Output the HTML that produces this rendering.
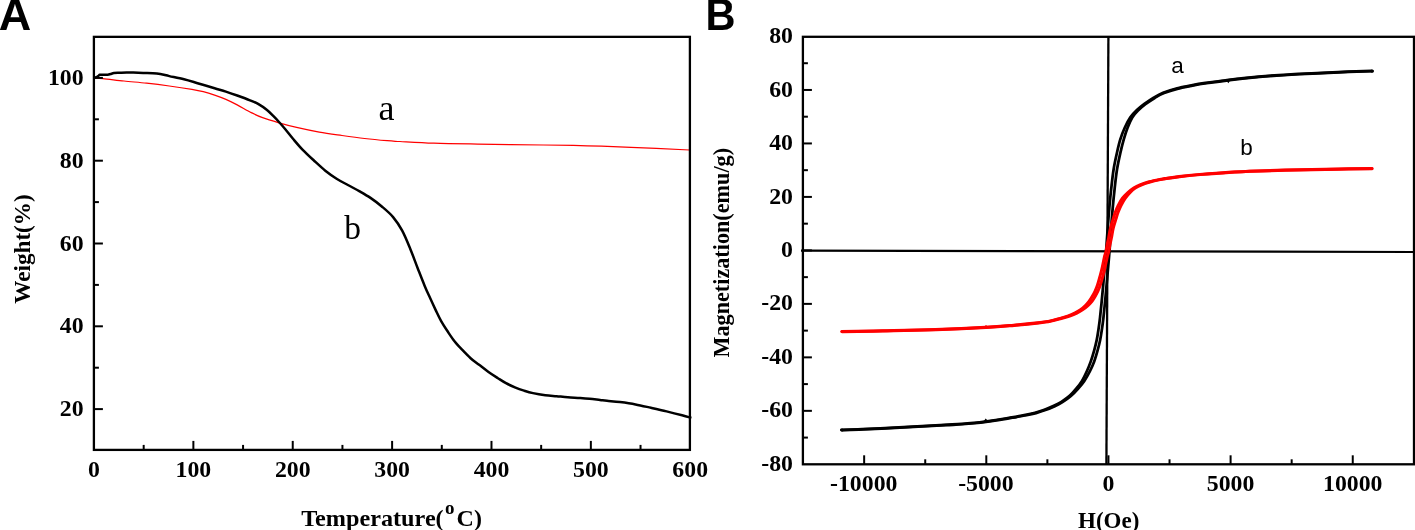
<!DOCTYPE html>
<html><head><meta charset="utf-8"><title>Figure</title>
<style>
html,body{margin:0;padding:0;background:#fff;}
body{width:1415px;height:530px;overflow:hidden;font-family:"Liberation Serif",serif;}
svg{display:block;will-change:transform;transform:translateZ(0);}
</style></head><body>
<svg width="1415" height="530" viewBox="0 0 1415 530">
<path d="M94.00,78.20 C95.50,78.27 98.00,78.13 103.00,78.60 C108.00,79.07 116.73,80.23 124.00,81.00 C131.27,81.77 139.05,82.37 146.60,83.20 C154.15,84.03 161.75,84.97 169.30,86.00 C176.85,87.03 186.23,88.45 191.90,89.40 C197.57,90.35 199.52,90.75 203.30,91.70 C207.08,92.65 210.83,93.82 214.60,95.10 C218.37,96.38 222.13,97.77 225.90,99.40 C229.67,101.03 232.97,102.70 237.20,104.90 C241.43,107.10 247.07,110.47 251.30,112.60 C255.53,114.73 257.98,116.00 262.60,117.70 C267.22,119.40 273.33,121.18 279.00,122.80 C284.67,124.42 289.88,125.85 296.60,127.40 C303.32,128.95 311.73,130.75 319.30,132.10 C326.87,133.45 334.45,134.43 342.00,135.50 C349.55,136.57 357.07,137.63 364.60,138.50 C372.13,139.37 381.30,140.20 387.20,140.70 C393.10,141.20 392.23,141.08 400.00,141.50 C407.77,141.92 420.87,142.77 433.80,143.20 C446.73,143.63 459.35,143.80 477.60,144.10 C495.85,144.40 525.03,144.72 543.30,145.00 C561.57,145.28 572.58,145.40 587.20,145.80 C601.82,146.20 613.95,146.70 631.00,147.40 C648.05,148.10 679.75,149.57 689.50,150.00" fill="none" stroke="#ff0000" stroke-width="1.25"/>
<rect x="93.90" y="36.85" width="596.00" height="413.05" fill="none" stroke="#000" stroke-width="2.3"/>
<line x1="143.69" y1="449.90" x2="143.69" y2="444.90" stroke="#000" stroke-width="2"/>
<line x1="193.37" y1="449.90" x2="193.37" y2="440.90" stroke="#000" stroke-width="2"/>
<line x1="243.06" y1="449.90" x2="243.06" y2="444.90" stroke="#000" stroke-width="2"/>
<line x1="292.74" y1="449.90" x2="292.74" y2="440.90" stroke="#000" stroke-width="2"/>
<line x1="342.43" y1="449.90" x2="342.43" y2="444.90" stroke="#000" stroke-width="2"/>
<line x1="392.11" y1="449.90" x2="392.11" y2="440.90" stroke="#000" stroke-width="2"/>
<line x1="441.80" y1="449.90" x2="441.80" y2="444.90" stroke="#000" stroke-width="2"/>
<line x1="491.48" y1="449.90" x2="491.48" y2="440.90" stroke="#000" stroke-width="2"/>
<line x1="541.16" y1="449.90" x2="541.16" y2="444.90" stroke="#000" stroke-width="2"/>
<line x1="590.85" y1="449.90" x2="590.85" y2="440.90" stroke="#000" stroke-width="2"/>
<line x1="640.53" y1="449.90" x2="640.53" y2="444.90" stroke="#000" stroke-width="2"/>
<line x1="93.90" y1="409.10" x2="102.90" y2="409.10" stroke="#000" stroke-width="2"/>
<line x1="93.90" y1="367.70" x2="98.90" y2="367.70" stroke="#000" stroke-width="2"/>
<line x1="93.90" y1="326.30" x2="102.90" y2="326.30" stroke="#000" stroke-width="2"/>
<line x1="93.90" y1="284.90" x2="98.90" y2="284.90" stroke="#000" stroke-width="2"/>
<line x1="93.90" y1="243.50" x2="102.90" y2="243.50" stroke="#000" stroke-width="2"/>
<line x1="93.90" y1="202.10" x2="98.90" y2="202.10" stroke="#000" stroke-width="2"/>
<line x1="93.90" y1="160.70" x2="102.90" y2="160.70" stroke="#000" stroke-width="2"/>
<line x1="93.90" y1="119.30" x2="98.90" y2="119.30" stroke="#000" stroke-width="2"/>
<line x1="93.90" y1="77.90" x2="102.90" y2="77.90" stroke="#000" stroke-width="2"/>
<rect x="802.90" y="36.80" width="611.10" height="427.50" fill="none" stroke="#000" stroke-width="2.3"/>
<line x1="864.15" y1="464.30" x2="864.15" y2="455.30" stroke="#000" stroke-width="2"/>
<line x1="925.23" y1="464.30" x2="925.23" y2="459.30" stroke="#000" stroke-width="2"/>
<line x1="986.30" y1="464.30" x2="986.30" y2="455.30" stroke="#000" stroke-width="2"/>
<line x1="1047.38" y1="464.30" x2="1047.38" y2="459.30" stroke="#000" stroke-width="2"/>
<line x1="1108.45" y1="464.30" x2="1108.45" y2="455.30" stroke="#000" stroke-width="2"/>
<line x1="1169.53" y1="464.30" x2="1169.53" y2="459.30" stroke="#000" stroke-width="2"/>
<line x1="1230.60" y1="464.30" x2="1230.60" y2="455.30" stroke="#000" stroke-width="2"/>
<line x1="1291.67" y1="464.30" x2="1291.67" y2="459.30" stroke="#000" stroke-width="2"/>
<line x1="1352.75" y1="464.30" x2="1352.75" y2="455.30" stroke="#000" stroke-width="2"/>
<line x1="802.90" y1="437.58" x2="807.90" y2="437.58" stroke="#000" stroke-width="2"/>
<line x1="802.90" y1="410.84" x2="811.90" y2="410.84" stroke="#000" stroke-width="2"/>
<line x1="802.90" y1="384.10" x2="807.90" y2="384.10" stroke="#000" stroke-width="2"/>
<line x1="802.90" y1="357.36" x2="811.90" y2="357.36" stroke="#000" stroke-width="2"/>
<line x1="802.90" y1="330.62" x2="807.90" y2="330.62" stroke="#000" stroke-width="2"/>
<line x1="802.90" y1="303.88" x2="811.90" y2="303.88" stroke="#000" stroke-width="2"/>
<line x1="802.90" y1="277.14" x2="807.90" y2="277.14" stroke="#000" stroke-width="2"/>
<line x1="802.90" y1="250.40" x2="811.90" y2="250.40" stroke="#000" stroke-width="2"/>
<line x1="802.90" y1="223.66" x2="807.90" y2="223.66" stroke="#000" stroke-width="2"/>
<line x1="802.90" y1="196.92" x2="811.90" y2="196.92" stroke="#000" stroke-width="2"/>
<line x1="802.90" y1="170.18" x2="807.90" y2="170.18" stroke="#000" stroke-width="2"/>
<line x1="802.90" y1="143.44" x2="811.90" y2="143.44" stroke="#000" stroke-width="2"/>
<line x1="802.90" y1="116.70" x2="807.90" y2="116.70" stroke="#000" stroke-width="2"/>
<line x1="802.90" y1="89.96" x2="811.90" y2="89.96" stroke="#000" stroke-width="2"/>
<line x1="802.90" y1="63.22" x2="807.90" y2="63.22" stroke="#000" stroke-width="2"/>
<line x1="801" y1="250.6" x2="1413" y2="252.0" stroke="#000" stroke-width="2.2"/>
<line x1="1108.4" y1="37" x2="1106.4" y2="464" stroke="#000" stroke-width="2.3"/>
<path d="M94.50,77.80 C94.92,77.63 96.32,77.15 97.00,76.80 C97.68,76.45 98.12,76.05 98.60,75.70 C99.08,75.35 99.17,74.87 99.90,74.70 C100.63,74.53 101.68,74.70 103.00,74.70 C104.32,74.70 106.53,74.82 107.80,74.70 C109.07,74.58 109.57,74.27 110.60,74.00 C111.63,73.73 112.48,73.30 114.00,73.10 C115.52,72.90 117.62,72.90 119.70,72.80 C121.78,72.70 124.23,72.53 126.50,72.50 C128.77,72.47 130.52,72.53 133.30,72.60 C136.08,72.67 139.28,72.77 143.20,72.90 C147.12,73.03 152.45,72.87 156.80,73.40 C161.15,73.93 164.77,75.12 169.30,76.10 C173.83,77.08 179.28,78.12 184.00,79.30 C188.72,80.48 192.50,81.70 197.60,83.20 C202.70,84.70 209.88,86.90 214.60,88.30 C219.32,89.70 222.13,90.40 225.90,91.60 C229.67,92.80 233.18,94.05 237.20,95.50 C241.22,96.95 246.45,98.85 250.00,100.30 C253.55,101.75 255.67,102.58 258.50,104.20 C261.33,105.82 264.50,108.00 267.00,110.00 C269.50,112.00 271.50,114.20 273.50,116.20 C275.50,118.20 277.03,119.83 279.00,122.00 C280.97,124.17 282.93,126.37 285.30,129.20 C287.67,132.03 290.33,135.60 293.20,139.00 C296.07,142.40 299.05,146.02 302.50,149.60 C305.95,153.18 310.10,156.98 313.90,160.50 C317.70,164.02 321.52,167.67 325.30,170.70 C329.08,173.73 332.83,176.32 336.60,178.70 C340.37,181.08 344.13,182.93 347.90,185.00 C351.67,187.07 355.43,188.95 359.20,191.10 C362.97,193.25 366.73,195.33 370.50,197.90 C374.27,200.47 378.03,203.30 381.80,206.50 C385.57,209.70 389.70,213.07 393.10,217.10 C396.50,221.13 399.30,225.30 402.20,230.70 C405.10,236.10 407.92,243.25 410.50,249.50 C413.08,255.75 415.33,262.13 417.70,268.20 C420.07,274.27 422.65,280.97 424.70,285.90 C426.75,290.83 428.17,293.77 430.00,297.80 C431.83,301.83 433.82,306.17 435.70,310.10 C437.58,314.03 439.27,317.78 441.30,321.40 C443.33,325.02 445.70,328.50 447.90,331.80 C450.10,335.10 452.13,338.22 454.50,341.20 C456.87,344.18 459.42,346.87 462.10,349.70 C464.78,352.53 467.77,355.68 470.60,358.20 C473.43,360.72 476.12,362.50 479.10,364.80 C482.08,367.10 485.37,369.77 488.50,372.00 C491.63,374.23 494.98,376.33 497.90,378.20 C500.82,380.07 503.07,381.63 506.00,383.20 C508.93,384.77 512.50,386.37 515.50,387.60 C518.50,388.83 521.08,389.68 524.00,390.60 C526.92,391.52 529.45,392.33 533.00,393.10 C536.55,393.87 541.37,394.68 545.30,395.20 C549.23,395.72 552.83,395.87 556.60,396.20 C560.37,396.53 563.97,396.90 567.90,397.20 C571.83,397.50 576.58,397.73 580.20,398.00 C583.82,398.27 586.30,398.47 589.60,398.80 C592.90,399.13 597.10,399.67 600.00,400.00 C602.90,400.33 603.68,400.45 607.00,400.80 C610.32,401.15 615.15,401.50 619.90,402.10 C624.65,402.70 630.32,403.45 635.50,404.40 C640.68,405.35 645.82,406.63 651.00,407.80 C656.18,408.97 661.42,410.15 666.60,411.40 C671.78,412.65 677.97,414.22 682.10,415.30 C686.23,416.38 689.85,417.47 691.40,417.90" fill="none" stroke="#000" stroke-width="2.5" stroke-linejoin="round"/>
<path d="M841.39,429.85 C844.84,429.73 854.06,429.48 862.09,429.15 C870.12,428.82 880.41,428.32 889.59,427.85 C898.77,427.38 908.01,426.85 917.19,426.35 C926.37,425.85 937.31,425.25 944.69,424.85 C952.07,424.45 956.66,424.27 961.49,423.95 C966.32,423.63 969.77,423.33 973.69,422.95 C977.61,422.57 981.07,422.18 984.99,421.65 C988.91,421.12 992.79,420.45 997.19,419.75 C1001.59,419.05 1006.67,418.25 1011.39,417.45 C1016.11,416.65 1021.56,415.73 1025.49,414.95 C1029.42,414.17 1031.84,413.62 1034.99,412.75 C1038.14,411.88 1041.26,410.90 1044.39,409.75 C1047.52,408.60 1050.96,407.17 1053.79,405.85 C1056.62,404.53 1058.71,403.55 1061.39,401.85 C1064.07,400.15 1067.38,397.88 1069.88,395.65 C1072.38,393.42 1074.38,390.93 1076.40,388.48 C1078.42,386.02 1080.27,383.73 1081.99,380.90 C1083.72,378.08 1085.25,374.79 1086.72,371.54 C1088.19,368.28 1089.55,364.89 1090.80,361.35 C1092.05,357.82 1093.22,353.89 1094.20,350.35 C1095.18,346.82 1096.00,343.55 1096.70,340.15 C1097.40,336.75 1097.85,333.65 1098.40,329.95 C1098.95,326.25 1099.35,323.79 1100.00,317.95 C1100.65,312.12 1101.58,302.62 1102.30,294.95 C1103.02,287.29 1103.67,279.29 1104.30,271.95 C1104.93,264.62 1105.55,257.95 1106.10,250.96 C1106.65,243.96 1107.07,237.12 1107.60,229.96 C1108.13,222.79 1108.68,214.96 1109.30,207.96 C1109.92,200.96 1110.58,194.37 1111.30,187.96 C1112.02,181.54 1112.67,175.27 1113.60,169.46 C1114.53,163.64 1115.78,158.06 1116.90,153.06 C1118.02,148.06 1118.98,143.71 1120.30,139.46 C1121.62,135.20 1123.16,131.22 1124.83,127.53 C1126.51,123.83 1128.37,120.15 1130.34,117.29 C1132.30,114.43 1134.27,112.59 1136.61,110.37 C1138.95,108.14 1141.54,106.07 1144.39,103.95 C1147.24,101.83 1150.57,99.52 1153.69,97.65 C1156.81,95.78 1159.17,94.32 1163.09,92.75 C1167.01,91.18 1172.47,89.48 1177.19,88.25 C1181.91,87.02 1186.67,86.23 1191.39,85.35 C1196.11,84.47 1200.77,83.67 1205.49,82.95 C1210.21,82.23 1214.02,81.78 1219.69,81.05 C1225.36,80.32 1232.99,79.30 1239.49,78.55 C1245.99,77.80 1248.87,77.32 1258.69,76.55 C1268.51,75.78 1285.17,74.70 1298.39,73.95 C1311.61,73.20 1325.81,72.55 1337.99,72.05 C1350.17,71.55 1365.91,71.13 1371.49,70.95" fill="none" stroke="#000" stroke-width="2.75" stroke-linejoin="round" stroke-linecap="round"/>
<path d="M842.41,430.15 C845.86,430.03 855.08,429.78 863.11,429.45 C871.14,429.12 881.43,428.62 890.61,428.15 C899.79,427.68 909.03,427.15 918.21,426.65 C927.39,426.15 938.33,425.55 945.71,425.15 C953.09,424.75 957.68,424.57 962.51,424.25 C967.34,423.93 970.79,423.63 974.71,423.25 C978.63,422.87 982.09,422.48 986.01,421.95 C989.93,421.42 993.81,420.75 998.21,420.05 C1002.61,419.35 1007.69,418.55 1012.41,417.75 C1017.13,416.95 1022.58,416.03 1026.51,415.25 C1030.44,414.47 1032.86,413.92 1036.01,413.05 C1039.16,412.18 1042.28,411.20 1045.41,410.05 C1048.54,408.90 1051.98,407.47 1054.81,406.15 C1057.64,404.83 1059.73,403.85 1062.41,402.15 C1065.09,400.45 1068.32,398.19 1070.92,395.95 C1073.52,393.71 1075.79,391.20 1078.00,388.72 C1080.22,386.25 1082.26,383.94 1084.20,381.10 C1086.15,378.25 1088.01,374.94 1089.68,371.66 C1091.34,368.39 1092.88,364.98 1094.20,361.44 C1095.52,357.91 1096.62,353.98 1097.60,350.44 C1098.58,346.91 1099.40,343.64 1100.10,340.25 C1100.80,336.85 1101.25,333.75 1101.80,330.05 C1102.35,326.35 1102.75,323.88 1103.40,318.05 C1104.05,312.21 1104.98,302.71 1105.70,295.05 C1106.42,287.38 1107.07,279.38 1107.70,272.05 C1108.33,264.71 1108.95,258.05 1109.50,251.04 C1110.05,244.04 1110.47,237.21 1111.00,230.04 C1111.53,222.88 1112.08,215.04 1112.70,208.04 C1113.32,201.04 1113.98,194.46 1114.70,188.04 C1115.42,181.63 1116.07,175.36 1117.00,169.54 C1117.93,163.73 1119.18,158.14 1120.30,153.14 C1121.42,148.14 1122.49,143.79 1123.70,139.54 C1124.91,135.30 1126.14,131.35 1127.57,127.67 C1128.99,124.00 1130.53,120.35 1132.26,117.51 C1134.00,114.67 1135.80,112.84 1137.99,110.63 C1140.18,108.42 1142.62,106.36 1145.41,104.25 C1148.20,102.14 1151.59,99.82 1154.71,97.95 C1157.83,96.08 1160.19,94.62 1164.11,93.05 C1168.03,91.48 1173.49,89.78 1178.21,88.55 C1182.93,87.32 1187.69,86.53 1192.41,85.65 C1197.13,84.77 1201.79,83.97 1206.51,83.25 C1211.23,82.53 1215.04,82.08 1220.71,81.35 C1226.38,80.62 1234.01,79.60 1240.51,78.85 C1247.01,78.10 1249.89,77.62 1259.71,76.85 C1269.53,76.08 1286.19,75.00 1299.41,74.25 C1312.63,73.50 1326.83,72.85 1339.01,72.35 C1351.19,71.85 1366.93,71.43 1372.51,71.25" fill="none" stroke="#000" stroke-width="2.75" stroke-linejoin="round" stroke-linecap="round"/>
<path d="M841.73,331.58 C848.55,331.45 867.02,331.13 882.63,330.78 C898.25,330.43 918.27,330.07 935.43,329.48 C952.60,328.90 972.60,328.00 985.63,327.28 C998.67,326.57 1004.92,325.93 1013.63,325.18 C1022.35,324.43 1031.92,323.47 1037.91,322.79 C1043.91,322.11 1045.78,321.88 1049.62,321.10 C1053.46,320.32 1057.83,318.99 1060.95,318.11 C1064.07,317.23 1065.95,316.68 1068.32,315.82 C1070.69,314.96 1073.13,313.94 1075.16,312.93 C1077.19,311.92 1078.81,310.94 1080.48,309.74 C1082.15,308.55 1083.74,307.14 1085.16,305.76 C1086.58,304.38 1087.81,303.03 1089.00,301.47 C1090.19,299.91 1091.27,298.15 1092.30,296.37 C1093.33,294.59 1094.33,292.67 1095.20,290.77 C1096.07,288.87 1096.73,287.27 1097.50,284.97 C1098.27,282.67 1099.08,279.57 1099.80,276.97 C1100.52,274.37 1101.02,272.77 1101.80,269.37 C1102.58,265.97 1103.78,259.64 1104.50,256.57 C1105.22,253.50 1105.67,252.90 1106.10,250.97 C1106.53,249.04 1106.67,247.22 1107.10,244.97 C1107.53,242.72 1108.15,240.25 1108.70,237.47 C1109.25,234.69 1109.65,231.37 1110.40,228.27 C1111.15,225.17 1112.40,221.50 1113.20,218.87 C1114.00,216.24 1114.37,214.70 1115.20,212.47 C1116.03,210.24 1116.99,207.84 1118.20,205.47 C1119.41,203.10 1120.83,200.42 1122.44,198.27 C1124.05,196.11 1125.98,194.27 1127.86,192.54 C1129.74,190.82 1131.61,189.25 1133.72,187.93 C1135.82,186.60 1137.93,185.63 1140.50,184.61 C1143.07,183.59 1145.96,182.67 1149.16,181.80 C1152.36,180.93 1157.10,179.93 1159.69,179.39 C1162.29,178.86 1161.50,179.07 1164.74,178.59 C1167.98,178.10 1173.28,177.18 1179.13,176.48 C1184.98,175.78 1191.57,175.10 1199.83,174.38 C1208.10,173.67 1218.87,172.77 1228.73,172.18 C1238.60,171.60 1247.37,171.28 1259.03,170.88 C1270.70,170.48 1285.52,170.10 1298.73,169.78 C1311.95,169.47 1326.15,169.20 1338.33,168.98 C1350.52,168.77 1366.25,168.57 1371.83,168.48" fill="none" stroke="#ff0000" stroke-width="3.0" stroke-linejoin="round" stroke-linecap="round"/>
<path d="M842.07,331.82 C848.88,331.68 867.35,331.37 882.97,331.02 C898.58,330.67 918.60,330.30 935.77,329.72 C952.93,329.13 972.93,328.23 985.97,327.52 C999.00,326.80 1005.22,326.17 1013.97,325.42 C1022.72,324.67 1032.42,323.70 1038.49,323.01 C1044.55,322.32 1046.45,322.09 1050.38,321.30 C1054.31,320.52 1058.83,319.18 1062.05,318.29 C1065.26,317.40 1067.21,316.85 1069.68,315.98 C1072.14,315.11 1074.70,314.09 1076.84,313.07 C1078.98,312.05 1080.72,311.06 1082.52,309.86 C1084.32,308.65 1086.10,307.23 1087.64,305.84 C1089.19,304.45 1090.56,303.10 1091.80,301.53 C1093.04,299.96 1094.07,298.21 1095.10,296.43 C1096.13,294.65 1097.13,292.73 1098.00,290.83 C1098.87,288.93 1099.53,287.33 1100.30,285.03 C1101.07,282.73 1101.88,279.63 1102.60,277.03 C1103.32,274.43 1103.82,272.83 1104.60,269.43 C1105.38,266.03 1106.58,259.70 1107.30,256.63 C1108.02,253.56 1108.47,252.96 1108.90,251.03 C1109.33,249.10 1109.47,247.28 1109.90,245.03 C1110.33,242.78 1110.95,240.31 1111.50,237.53 C1112.05,234.75 1112.45,231.43 1113.20,228.33 C1113.95,225.23 1115.20,221.56 1116.00,218.93 C1116.80,216.30 1117.17,214.76 1118.00,212.53 C1118.83,210.30 1119.81,207.90 1121.00,205.53 C1122.19,203.16 1123.67,200.48 1125.16,198.33 C1126.65,196.19 1128.25,194.37 1129.94,192.66 C1131.63,190.95 1133.32,189.39 1135.28,188.07 C1137.24,186.76 1139.24,185.80 1141.70,184.79 C1144.16,183.77 1146.94,182.86 1150.04,182.00 C1153.14,181.14 1157.77,180.14 1160.31,179.61 C1162.84,179.08 1162.07,179.29 1165.26,178.81 C1168.46,178.33 1173.65,177.42 1179.47,176.72 C1185.29,176.02 1191.90,175.33 1200.17,174.62 C1208.43,173.90 1219.20,173.00 1229.07,172.42 C1238.93,171.83 1247.70,171.52 1259.37,171.12 C1271.03,170.72 1285.85,170.33 1299.07,170.02 C1312.28,169.70 1326.48,169.43 1338.67,169.22 C1350.85,169.00 1366.58,168.80 1372.17,168.72" fill="none" stroke="#ff0000" stroke-width="3.0" stroke-linejoin="round" stroke-linecap="round"/>
<path d="M1226.3,80.5 L1230.3,80 L1228.4,83.2 Z" fill="#000"/><path d="M983.6,421.6 L988.2,421 L985.6,418.4 Z" fill="#000"/><circle cx="1372" cy="71.1" r="1.7" fill="#000"/><circle cx="842" cy="430" r="1.6" fill="#000"/><circle cx="986" cy="326.3" r="1.1" fill="#f00"/>
<text x="83.60" y="416.10" font-family="'Liberation Serif', serif" font-size="23.80" font-weight="bold" text-anchor="end" >20</text>
<text x="83.60" y="333.30" font-family="'Liberation Serif', serif" font-size="23.80" font-weight="bold" text-anchor="end" >40</text>
<text x="83.60" y="250.50" font-family="'Liberation Serif', serif" font-size="23.80" font-weight="bold" text-anchor="end" >60</text>
<text x="83.60" y="167.70" font-family="'Liberation Serif', serif" font-size="23.80" font-weight="bold" text-anchor="end" >80</text>
<text x="83.60" y="84.90" font-family="'Liberation Serif', serif" font-size="23.80" font-weight="bold" text-anchor="end" >100</text>
<text x="94.00" y="477.20" font-family="'Liberation Serif', serif" font-size="23.80" font-weight="bold" text-anchor="middle" >0</text>
<text x="193.37" y="477.20" font-family="'Liberation Serif', serif" font-size="23.80" font-weight="bold" text-anchor="middle" >100</text>
<text x="292.74" y="477.20" font-family="'Liberation Serif', serif" font-size="23.80" font-weight="bold" text-anchor="middle" >200</text>
<text x="392.11" y="477.20" font-family="'Liberation Serif', serif" font-size="23.80" font-weight="bold" text-anchor="middle" >300</text>
<text x="491.48" y="477.20" font-family="'Liberation Serif', serif" font-size="23.80" font-weight="bold" text-anchor="middle" >400</text>
<text x="590.85" y="477.20" font-family="'Liberation Serif', serif" font-size="23.80" font-weight="bold" text-anchor="middle" >500</text>
<text x="690.22" y="477.20" font-family="'Liberation Serif', serif" font-size="23.80" font-weight="bold" text-anchor="middle" >600</text>
<text x="793.00" y="470.92" font-family="'Liberation Serif', serif" font-size="23.80" font-weight="bold" text-anchor="end" >-80</text>
<text x="793.00" y="417.44" font-family="'Liberation Serif', serif" font-size="23.80" font-weight="bold" text-anchor="end" >-60</text>
<text x="793.00" y="363.96" font-family="'Liberation Serif', serif" font-size="23.80" font-weight="bold" text-anchor="end" >-40</text>
<text x="793.00" y="310.48" font-family="'Liberation Serif', serif" font-size="23.80" font-weight="bold" text-anchor="end" >-20</text>
<text x="793.00" y="257.00" font-family="'Liberation Serif', serif" font-size="23.80" font-weight="bold" text-anchor="end" >0</text>
<text x="793.00" y="203.52" font-family="'Liberation Serif', serif" font-size="23.80" font-weight="bold" text-anchor="end" >20</text>
<text x="793.00" y="150.04" font-family="'Liberation Serif', serif" font-size="23.80" font-weight="bold" text-anchor="end" >40</text>
<text x="793.00" y="96.56" font-family="'Liberation Serif', serif" font-size="23.80" font-weight="bold" text-anchor="end" >60</text>
<text x="793.00" y="43.08" font-family="'Liberation Serif', serif" font-size="23.80" font-weight="bold" text-anchor="end" >80</text>
<text x="863.75" y="491.00" font-family="'Liberation Serif', serif" font-size="23.80" font-weight="bold" text-anchor="middle" >-10000</text>
<text x="985.90" y="491.00" font-family="'Liberation Serif', serif" font-size="23.80" font-weight="bold" text-anchor="middle" >-5000</text>
<text x="1108.45" y="491.00" font-family="'Liberation Serif', serif" font-size="23.80" font-weight="bold" text-anchor="middle" >0</text>
<text x="1230.60" y="491.00" font-family="'Liberation Serif', serif" font-size="23.80" font-weight="bold" text-anchor="middle" >5000</text>
<text x="1352.75" y="491.00" font-family="'Liberation Serif', serif" font-size="23.80" font-weight="bold" text-anchor="middle" >10000</text>
<text transform="translate(-1.2,29.6) scale(1.01,1)" font-family="'Liberation Sans', sans-serif" font-size="44.5" font-weight="bold">A</text>
<text transform="translate(705.6,29.8) scale(0.955,1)" font-family="'Liberation Sans', sans-serif" font-size="43.5" font-weight="bold">B</text>
<text x="378.50" y="120.00" font-family="'Liberation Serif', serif" font-size="36.00" font-weight="normal" text-anchor="start" >a</text>
<text x="344.30" y="239.00" font-family="'Liberation Serif', serif" font-size="33.50" font-weight="normal" text-anchor="start" >b</text>
<text x="1171.30" y="73.00" font-family="'Liberation Sans', serif" font-size="22.50" font-weight="normal" text-anchor="start" >a</text>
<text x="1240.30" y="155.20" font-family="'Liberation Sans', serif" font-size="22.50" font-weight="normal" text-anchor="start" >b</text>
<text font-family="'Liberation Serif', serif" font-size="24" font-weight="bold" x="301.20" y="526" textLength="142.50" lengthAdjust="spacingAndGlyphs">Temperature(</text>
<text font-family="'Liberation Serif', serif" font-size="19" font-weight="bold" x="445.00" y="514.2">o</text>
<text font-family="'Liberation Serif', serif" font-size="24" font-weight="bold" x="456.60" y="526">C)</text>
<text x="1108.70" y="528.20" font-family="'Liberation Serif', serif" font-size="23.00" font-weight="bold" text-anchor="middle" >H(Oe)</text>
<text font-family="'Liberation Serif', serif" font-size="23.7" font-weight="bold" text-anchor="middle" transform="translate(29.9,249.0) rotate(-90)" textLength="109.5" lengthAdjust="spacingAndGlyphs">Weight(%)</text>
<text font-family="'Liberation Serif', serif" font-size="23.7" font-weight="bold" text-anchor="middle" transform="translate(728.8,252.7) rotate(-90)" textLength="209.6" lengthAdjust="spacingAndGlyphs">Magnetization(emu/g)</text>
</svg>
</body></html>
